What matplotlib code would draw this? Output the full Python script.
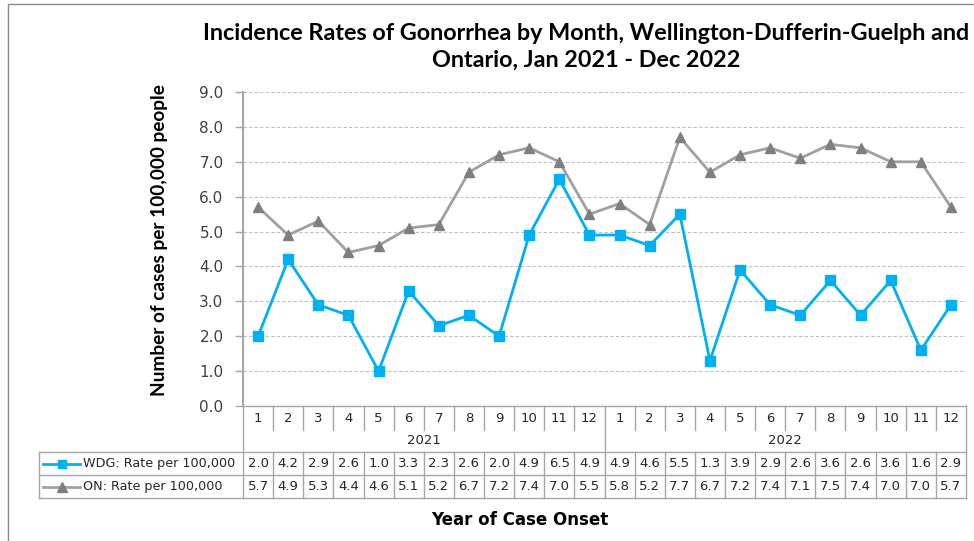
import matplotlib.pyplot as plt
import matplotlib.transforms as mtransforms
from matplotlib.lines import Line2D
from matplotlib.patches import Rectangle

months = [1, 2, 3, 4, 5, 6, 7, 8, 9, 10, 11, 12] * 2
years = ["2021", "2022"]
wdg_rate = [2.0, 4.2, 2.9, 2.6, 1.0, 3.3, 2.3, 2.6, 2.0, 4.9, 6.5, 4.9,
            4.9, 4.6, 5.5, 1.3, 3.9, 2.9, 2.6, 3.6, 2.6, 3.6, 1.6, 2.9]
on_rate = [5.7, 4.9, 5.3, 4.4, 4.6, 5.1, 5.2, 6.7, 7.2, 7.4, 7.0, 5.5,
           5.8, 5.2, 7.7, 6.7, 7.2, 7.4, 7.1, 7.5, 7.4, 7.0, 7.0, 5.7]
series_names = ["WDG: Rate per 100,000", "ON: Rate per 100,000"]
y_ticks = [0, 1, 2, 3, 4, 5, 6, 7, 8, 9]

W, H = 974, 541
BLUE = "#00B0F0"
GRAY_LINE = "#A0A0A0"
GRAY_MARK = "#7F7F7F"
EDGE = "#A6A6A6"


def fx(p):
    return p / W


def fy(p):
    return 1 - p / H


fig = plt.figure(figsize=(W / 100, H / 100), dpi=100)
ax = fig.add_axes([fx(243), fy(406), fx(966) - fx(243), fy(92) - fy(406)])

x = list(range(len(months)))
ax.plot(x, on_rate, color=GRAY_LINE, lw=2, marker="^", ms=7,
        mfc=GRAY_MARK, mec=GRAY_MARK, zorder=3)
ax.plot(x, wdg_rate, color=BLUE, lw=2, marker="s", ms=6.5,
        mfc=BLUE, mec=BLUE, zorder=4)

ax.set_xlim(-0.5, len(months) - 0.5)
ax.set_ylim(0, 9)
ax.set_yticks(y_ticks)
ax.set_yticklabels([f"{v:.1f}" for v in y_ticks], fontsize=11, color="#404040")
ax.set_xticks([])
ax.tick_params(axis="y", length=6, color=EDGE, width=1, pad=8)
ax.grid(axis="y", color="#C0C0C0", ls=(0, (3, 2)), lw=0.8)
for s in ["top", "right"]:
    ax.spines[s].set_visible(False)
ax.spines["left"].set_color(EDGE)
ax.spines["left"].set_linewidth(1.5)
ax.spines["bottom"].set_color(EDGE)
ax.spines["bottom"].set_linewidth(1)

# y label placed by hand in figure pixels
fig.text(fx(160), fy(240), "Number of cases per 100,000 people", rotation=90,
         ha="center", va="center", fontsize=13.7, fontweight="bold", family="Lato")

fig.text(fx(586), fy(47), "Incidence Rates of Gonorrhea by Month, Wellington-Dufferin-Guelph and\nOntario, Jan 2021 - Dec 2022",
         ha="center", va="center", fontsize=16.8, fontweight="bold", family="Lato",
         linespacing=1.3)

# data table below the axis
bt = mtransforms.blended_transform_factory(ax.transData, fig.transFigure)
lw_t = 1
tc = "#A6A6A6"


def hline(y, x0, x1):
    fig.add_artist(Line2D([fx(x0), fx(x1)], [fy(y), fy(y)], color=tc, lw=lw_t))


def vline_data(xd, y0, y1):
    fig.add_artist(Line2D([xd, xd], [fy(y0), fy(y1)], color=tc, lw=lw_t, transform=bt))


for i, m in enumerate(months):
    ax.text(i, fy(418), str(m), transform=bt, ha="center", va="center",
            fontsize=9.5, color="#262626")
    edge = i - 0.5
    if i == 0:
        continue
    if m == 1:
        vline_data(edge, 406, 498)
    else:
        vline_data(edge, 406, 430)
        vline_data(edge, 452, 498)

vline_data(len(months) - 0.5, 406, 498)
vline_data(-0.5, 406, 498)

for k, yr in enumerate(years):
    ax.text(12 * k + 5.5, fy(441), yr, transform=bt, ha="center", va="center",
            fontsize=9.5, color="#262626")

hline(452, 39, 966)
hline(475, 39, 966)
hline(498, 39, 966)
fig.add_artist(Line2D([fx(39), fx(39)], [fy(452), fy(498)], color=tc, lw=lw_t))

rows = [(wdg_rate, 463.5, BLUE, BLUE, "s", 6), (on_rate, 486.5, GRAY_LINE, GRAY_MARK, "^", 6.5)]
for (vals, yc, lc, mc, mk, ms), name in zip(rows, series_names):
    for i, v in enumerate(vals):
        ax.text(i, fy(yc), f"{v:.1f}", transform=bt, ha="center", va="center",
                fontsize=9.5, color="#262626")
    fig.add_artist(Line2D([fx(43), fx(80)], [fy(yc), fy(yc)], color=lc, lw=2))
    fig.add_artist(Line2D([fx(61.5)], [fy(yc)], color=mc, marker=mk, ms=ms,
                          mfc=mc, mec=mc, lw=0))
    fig.text(fx(83), fy(yc), name, ha="left", va="center", fontsize=9.2, color="#262626")

fig.text(fx(520), fy(520), "Year of Case Onset", ha="center", va="center",
         fontsize=12, fontweight="bold", color="#000000")

# outer chart frame
fig.add_artist(Rectangle((fx(8), fy(560)), 1.2, fy(4) - fy(560), fill=False,
                         ec="#8C8C8C", lw=1, transform=fig.transFigure))

fig.savefig("out.png", dpi=100)
